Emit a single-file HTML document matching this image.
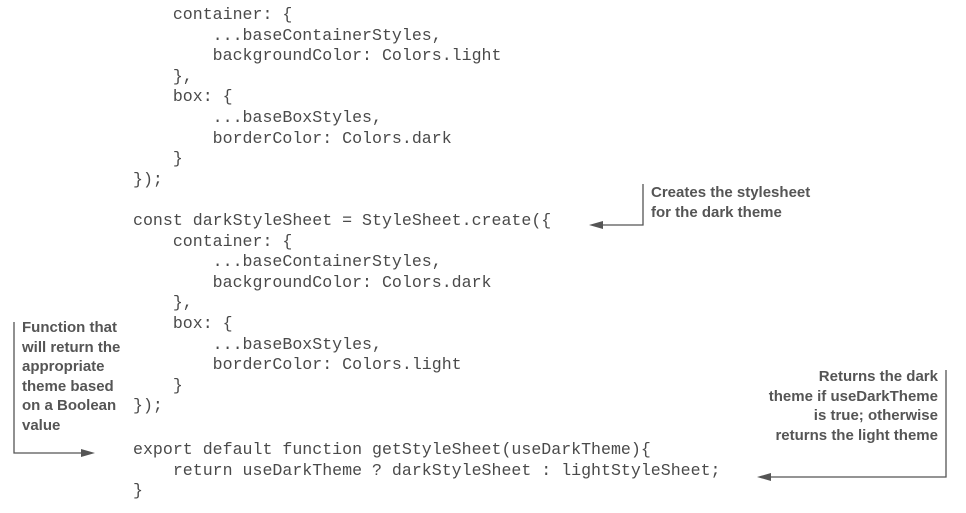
<!DOCTYPE html>
<html><head><meta charset="utf-8"><style>
html,body{margin:0;padding:0;background:#fff;width:966px;height:513px;overflow:hidden;position:relative}
.c{position:absolute;left:133px;font-family:"Liberation Mono",monospace;font-size:16.6px;color:#4a4a4a;white-space:pre;line-height:20.6px}
.a{position:absolute;font-family:"Liberation Sans Narrow","Liberation Sans",sans-serif;font-weight:bold;font-size:15px;line-height:19.5px;color:#555;white-space:pre}
</style></head><body>
<div class="c" style="top:5px">    container: {
        ...baseContainerStyles,
        backgroundColor: Colors.light
    },
    box: {
        ...baseBoxStyles,
        borderColor: Colors.dark
    }
});

const darkStyleSheet = StyleSheet.create({
    container: {
        ...baseContainerStyles,
        backgroundColor: Colors.dark
    },
    box: {
        ...baseBoxStyles,
        borderColor: Colors.light
    }
});
</div>
<div class="c" style="top:440px">export default function getStyleSheet(useDarkTheme){
    return useDarkTheme ? darkStyleSheet : lightStyleSheet;
}</div>
<div class="a" style="left:651px;top:183px">Creates the stylesheet
for the dark theme</div>
<div class="a" style="left:22px;top:318px">Function that
will return the
appropriate
theme based
on a Boolean
value</div>
<div class="a" style="right:28px;top:367px;text-align:right">Returns the dark
theme if useDarkTheme
is true; otherwise
returns the light theme</div>
<svg width="966" height="513" style="position:absolute;left:0;top:0" fill="none" stroke="#555" stroke-width="1.3">
<polyline points="643,184 643,225 600,225"/>
<polygon points="589,225 603,221 603,229" fill="#555" stroke="none"/>
<polyline points="14,322 14,453 84,453"/>
<polygon points="95,453 81,449 81,457" fill="#555" stroke="none"/>
<polyline points="946,370 946,477 768,477"/>
<polygon points="757,477 771,473 771,481" fill="#555" stroke="none"/>
</svg>
</body></html>
